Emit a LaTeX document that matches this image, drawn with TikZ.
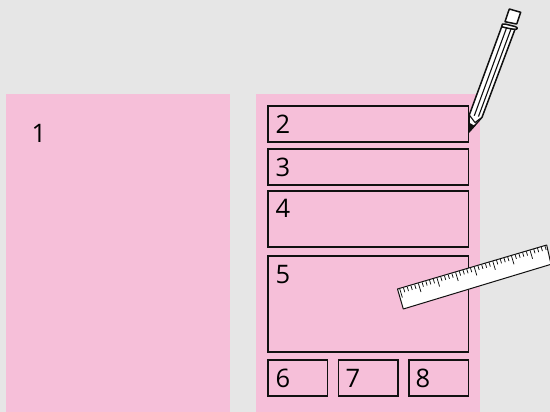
\documentclass[tikz,border=0pt]{standalone}
\usepackage{fontspec}
\setmainfont{Open Sans}
\definecolor{bgc}{HTML}{E6E6E6}
\definecolor{pinkc}{HTML}{F6BFD9}
\definecolor{inkc}{HTML}{111111}
\tikzset{
  panel/.style={fill=pinkc,draw=none,inner sep=0pt,outer sep=0pt},
  zone/.style={draw=inkc,line width=1.4pt,inner sep=0pt,outer sep=0pt},
  num/.style={font=\fontsize{25.5}{26}\selectfont,text=black,inner sep=0pt},
  tool/.style={draw=inkc,fill=white,line width=1.5pt,line join=round}
}
\begin{document}
\begin{tikzpicture}[x=1pt,y=-1pt]
\useasboundingbox[fill=bgc] (0,0) rectangle (550,412);
\node[panel,minimum width=224pt,minimum height=318pt] (left) at (118,253) {};
\node[panel,minimum width=224pt,minimum height=318pt] (right) at (368,253) {};
\node[zone,minimum width=200.6pt,minimum height=36pt] (b2) at (368.2,124) {};
\node[zone,minimum width=200.6pt,minimum height=36pt] (b3) at (368.2,167) {};
\node[zone,minimum width=200.6pt,minimum height=56pt] (b4) at (368.2,219) {};
\node[zone,minimum width=200.6pt,minimum height=96pt] (b5) at (368.2,304) {};
\node[zone,minimum width=59.2pt,minimum height=36pt] (b6) at (297.6,378) {};
\node[zone,minimum width=59.6pt,minimum height=36pt] (b7) at (368,378) {};
\node[zone,minimum width=59.6pt,minimum height=36pt] (b8) at (438.7,378) {};
\node[num] (n1) at (39,133) {1};
\node[num] (n2) at (283,124) {2};
\node[num] (n3) at (283,167) {3};
\node[num] (n4) at (283,208) {4};
\node[num] (n5) at (283,275) {5};
\node[num] (n6) at (283,378) {6};
\node[num] (n7) at (353,378) {7};
\node[num] (n8) at (423,378) {8};
% ruler
\draw[tool,line width=1pt] (397.5,289) -- (403.3,309) -- (551,264.3) -- (546.7,245) -- cycle;
\foreach \i in {0,...,39}{
  \pgfmathsetmacro{\tx}{399.8+3.72*\i}
  \pgfmathsetmacro{\ty}{289-1.11*\i}
  \pgfmathtruncatemacro{\m}{mod(\i,5)}
  \pgfmathsetmacro{\len}{\m==0?9:4.5}
  \draw[inkc,line width=.75pt] (\tx,\ty) -- ++({.287*\len},{.958*\len});
}
% pencil
\draw[tool] (509.3,9) -- (520.7,12.3) -- (516.7,24) -- (505,21.7) -- cycle;
\draw[tool] (469.3,115) -- (501.7,26.7) -- (515,29.3) -- (482,117.3) -- (469,132) -- cycle;
\draw[inkc,line width=1.1pt] (506.5,28) -- (474,116.5) (511,29) -- (478.3,117);
\draw[tool] (501.7,26.7) .. controls (501,24) and (503,23.5) .. (505,24)
  -- (515,26.5) .. controls (518,27.3) and (518,29.5) .. (515,29.3)
  .. controls (510,29) and (505,27.5) .. (501.7,26.7) -- cycle;
\draw[tool,line width=1.1pt] (469.3,115) -- (475,122.5) -- (482,117.3);
\fill[inkc] (469,132) -- (469.8,123) -- (475,126) -- cycle;
\end{tikzpicture}
\end{document}
